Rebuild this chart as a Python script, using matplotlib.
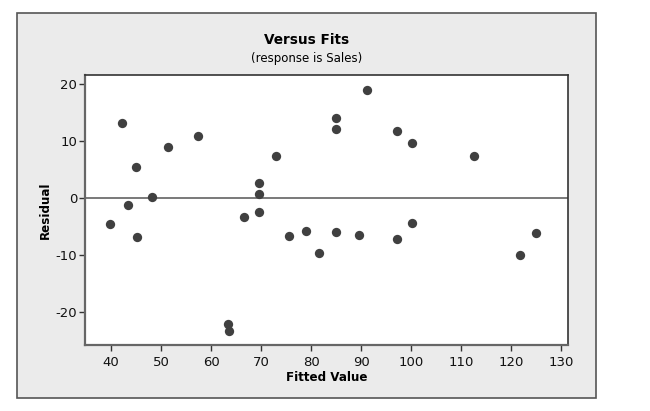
import matplotlib
matplotlib.use('Agg')
import matplotlib.pyplot as plt
from matplotlib.patches import Rectangle

# fitted values and residuals
fitted = [42.1, 57.3, 51.3, 44.9, 48.1, 43.4, 39.8, 45.1, 66.5, 63.3,
          63.5, 91.1, 84.9, 84.9, 97.1, 100.2, 72.9, 69.6, 69.6, 69.6,
          75.6, 78.9, 81.6, 84.9, 89.5, 97.1, 100.2, 112.5, 124.9, 121.7]
residual = [13.2, 10.9, 8.9, 5.4, 0.1, -1.3, -4.5, -6.8, -3.4, -22.2,
            -23.4, 19.0, 14.1, 12.1, 11.8, 9.6, 7.4, 2.6, 0.7, -2.4,
            -6.7, -5.7, -9.6, -5.9, -6.5, -7.2, -4.3, 7.3, -6.1, -10.0]
xticks = [40, 50, 60, 70, 80, 90, 100, 110, 120, 130]
yticks = [-20, -10, 0, 10, 20]

plt.rcParams['font.family'] = ['DejaVu Sans']
plt.rcParams['axes.unicode_minus'] = False

W, H = 650, 411
fig = plt.figure(figsize=(6.5, 4.11), dpi=100, facecolor='white')

# grey panel behind the plot
panel = Rectangle((17 / W, 1 - 398 / H), 579 / W, 385 / H, transform=fig.transFigure,
                  facecolor='#ebebeb', edgecolor='#555555', linewidth=1.2, zorder=-10)
fig.patches.append(panel)

ax = fig.add_axes([85 / W, 1 - 345 / H, 483 / W, 270 / H])
ax.set_zorder(1)
ax.set_facecolor('white')
ax.scatter(fitted, residual, s=45, color='#404040', zorder=3, linewidths=0)
ax.axhline(0, color='#555555', linewidth=1.1, zorder=2)

ax.set_xlim(34.8, 131.4)
ax.set_ylim(-25.8, 21.6)
ax.set_xticks(xticks)
ax.set_yticks(yticks)
ax.tick_params(axis='both', direction='out', length=4, width=1, color='#333333',
               labelsize=9.5, labelcolor='#111111')
ax.tick_params(axis='x', pad=4)
ax.tick_params(axis='y', pad=1.5)
for side in ['top', 'right']:
    ax.spines[side].set_color('#333333')
    ax.spines[side].set_linewidth(1.2)
for side in ['left', 'bottom']:
    ax.spines[side].set_color('#666666')
    ax.spines[side].set_linewidth(1.6)

ax.set_xlabel('Fitted Value', fontsize=8.6, fontweight='bold', labelpad=1)
ax.set_ylabel('Residual', fontsize=8.6, fontweight='bold', labelpad=2.5)

fig.text(306.5 / W, 1 - 40 / H, 'Versus Fits', ha='center', va='center',
         fontsize=9.8, fontweight='bold')
fig.text(306.5 / W, 1 - 58 / H, '(response is Sales)', ha='center', va='center',
         fontsize=8.5)

fig.savefig('out.png', dpi=100, facecolor='white')
